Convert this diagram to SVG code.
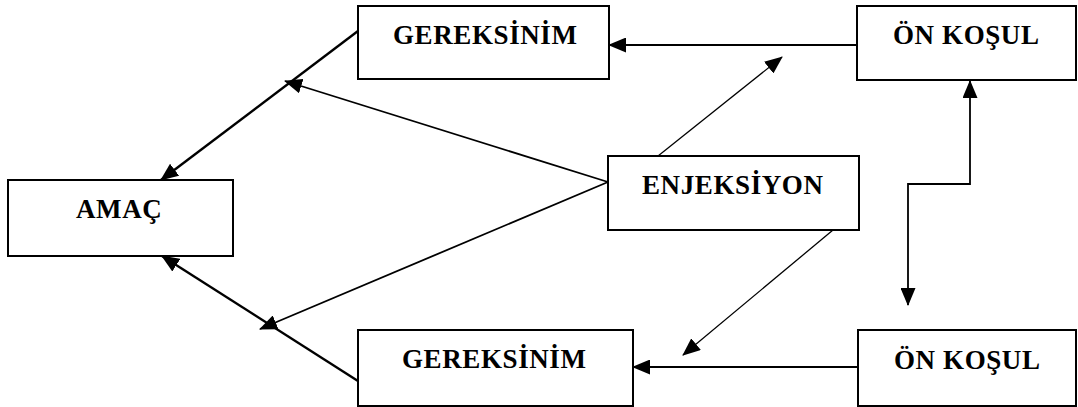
<svg xmlns="http://www.w3.org/2000/svg" width="1078" height="407" viewBox="0 0 1078 407">
<style>
.box{fill:#fff;stroke:#000;stroke-width:2}
.lbl{font-family:"Liberation Serif","Times New Roman",serif;font-weight:bold;font-size:27px;letter-spacing:0.6px;fill:#000}
.thick{stroke:#000;stroke-width:2.4;fill:none}
.mid{stroke:#000;stroke-width:1.8;fill:none}
.thin{stroke:#000;stroke-width:1.3;fill:none}
</style>
<defs>
<marker id="ah" markerUnits="userSpaceOnUse" viewBox="0 0 18 15" refX="17" refY="7.5" markerWidth="18" markerHeight="15" orient="auto-start-reverse">
<path d="M0,0 L18,7.5 L0,15 Z" fill="#000"/>
</marker>
</defs>
<rect width="1078" height="407" fill="#fff"/>
<g id="connectors">
<line class="thick" x1="358" y1="31" x2="161" y2="180" marker-end="url(#ah)"/>
<line class="thick" x1="358" y1="381" x2="162" y2="256" marker-end="url(#ah)"/>
<line class="mid" x1="608" y1="182" x2="285" y2="81" marker-end="url(#ah)"/>
<line class="mid" x1="608" y1="182" x2="260" y2="329" marker-end="url(#ah)"/>
<line class="mid" x1="857" y1="45" x2="609" y2="45" marker-end="url(#ah)"/>
<line class="mid" x1="858" y1="367" x2="633" y2="367" marker-end="url(#ah)"/>
<line class="thin" x1="658" y1="156" x2="782" y2="57" marker-end="url(#ah)"/>
<line class="thin" x1="833" y1="230" x2="683" y2="355" marker-end="url(#ah)"/>
<path class="mid" d="M970,81 L970,184 L908,184 L908,305" marker-start="url(#ah)" marker-end="url(#ah)"/>
</g>
<g id="amac">
<rect class="box" x="8" y="180" width="225" height="76"/>
<text class="lbl" x="76" y="218">AMAÇ</text>
</g>
<g id="gereksinim-top">
<rect class="box" x="358" y="6" width="251" height="73"/>
<text class="lbl" x="393" y="44">GEREKSİNİM</text>
</g>
<g id="onkosul-top">
<rect class="box" x="857" y="6" width="219" height="74"/>
<text class="lbl" x="893" y="44">ÖN KOŞUL</text>
</g>
<g id="enjeksiyon">
<rect class="box" x="608" y="156" width="251" height="74"/>
<text class="lbl" x="642" y="194">ENJEKSİYON</text>
</g>
<g id="gereksinim-bottom">
<rect class="box" x="358" y="330" width="275" height="76"/>
<text class="lbl" x="402" y="368">GEREKSİNİM</text>
</g>
<g id="onkosul-bottom">
<rect class="box" x="858" y="330" width="218" height="76"/>
<text class="lbl" x="894" y="369">ÖN KOŞUL</text>
</g>
</svg>
